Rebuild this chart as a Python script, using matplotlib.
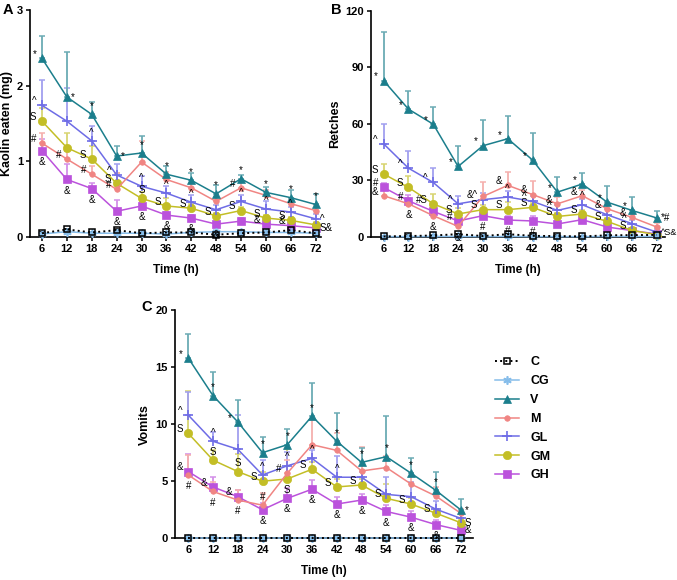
import numpy as np
import matplotlib
matplotlib.use("Agg")
import matplotlib.pyplot as plt
from matplotlib.colors import to_rgb

plt.rcParams['font.family'] = ['Liberation Sans', 'DejaVu Sans']

# time points (h)
hours = [6, 12, 18, 24, 30, 36, 42, 48, 54, 60, 66, 72]
groups = ['C', 'CG', 'V', 'M', 'GL', 'GM', 'GH']

# ---- A: kaolin eaten (mg), mean and upper SD ----
kaolin_mean = {
    'C':  [0.05, 0.10, 0.06, 0.09, 0.05, 0.06, 0.06, 0.03, 0.05, 0.06, 0.09, 0.05],
    'CG': [0.04, 0.07, 0.05, 0.05, 0.05, 0.04, 0.06, 0.07, 0.07, 0.06, 0.06, 0.05],
    'V':  [2.36, 1.85, 1.62, 1.07, 1.11, 0.83, 0.75, 0.57, 0.77, 0.59, 0.52, 0.43],
    'M':  [1.24, 1.03, 0.83, 0.63, 0.99, 0.76, 0.65, 0.47, 0.65, 0.55, 0.44, 0.35],
    'GL': [1.74, 1.53, 1.27, 0.82, 0.67, 0.58, 0.46, 0.36, 0.47, 0.37, 0.33, 0.24],
    'GM': [1.53, 1.18, 1.03, 0.71, 0.51, 0.41, 0.38, 0.28, 0.35, 0.25, 0.22, 0.16],
    'GH': [1.14, 0.76, 0.64, 0.34, 0.41, 0.29, 0.25, 0.17, 0.21, 0.17, 0.15, 0.12],
}
kaolin_sd = {
    'C':  [0.01] * 12,
    'CG': [0.02] * 12,
    'V':  [0.30, 0.60, 0.16, 0.13, 0.22, 0.11, 0.09, 0.12, 0.05, 0.07, 0.10, 0.14],
    'M':  [0.14, 0.10, 0.11, 0.21, 0.28, 0.10, 0.07, 0.06, 0.10, 0.07, 0.06, 0.07],
    'GL': [0.34, 0.44, 0.20, 0.15, 0.13, 0.09, 0.09, 0.06, 0.08, 0.11, 0.07, 0.06],
    'GM': [0.17, 0.19, 0.17, 0.14, 0.08, 0.10, 0.06, 0.04, 0.05, 0.04, 0.04, 0.04],
    'GH': [0.16, 0.21, 0.08, 0.15, 0.05, 0.04, 0.04, 0.03, 0.04, 0.03, 0.03, 0.02],
}

# ---- B: retches ----
retch_mean = {
    'C':  [0.3, 0.5, 0.8, 1.5, 0.5, 1.5, 0.6, 0.5, 0.3, 0.9, 1.0, 1.1],
    'CG': [0.2, 0.2, 0.3, 0.3, 0.2, 0.3, 0.2, 0.2, 0.2, 0.3, 0.3, 0.3],
    'V':  [82.9, 67.8, 59.8, 37.4, 48.4, 52.1, 40.8, 23.8, 28.1, 18.5, 14.1, 10.1],
    'M':  [21.9, 17.6, 11.3, 5.6, 21.5, 27.4, 22.5, 17.6, 21.9, 15.0, 10.4, 5.3],
    'GL': [49.4, 36.5, 28.9, 17.6, 19.8, 21.2, 18.9, 14.1, 17.1, 11.8, 7.1, 2.6],
    'GM': [33.4, 26.3, 17.6, 12.2, 14.5, 14.5, 15.7, 10.9, 12.2, 8.3, 3.5, 1.2],
    'GH': [26.3, 19.2, 13.6, 8.5, 11.3, 9.0, 8.5, 6.9, 9.2, 5.3, 3.4, 1.6],
}
retch_sd = {
    'C':  [0.3] * 12,
    'CG': [0.3] * 12,
    'V':  [25.6, 9.7, 9.0, 10.6, 13.4, 12.3, 14.1, 7.8, 6.1, 8.3, 6.9, 3.8],
    'M':  [3.0, 3.0, 3.0, 3.0, 7.5, 7.2, 7.0, 3.5, 3.0, 3.0, 2.0, 2.0],
    'GL': [10.6, 9.2, 7.5, 4.3, 3.5, 3.0, 3.0, 3.0, 3.0, 3.0, 2.0, 1.5],
    'GM': [5.2, 6.3, 5.2, 3.0, 2.5, 3.9, 2.5, 2.0, 2.0, 2.0, 1.0, 0.8],
    'GH': [2.5, 3.0, 2.5, 2.0, 2.0, 2.0, 2.8, 1.5, 1.5, 1.5, 1.0, 0.8],
}

# ---- C: vomits ----
vomit_mean = {
    'C':  [0] * 12,
    'CG': [0] * 12,
    'V':  [15.8, 12.5, 10.2, 7.5, 8.2, 10.7, 8.5, 6.65, 7.15, 5.7, 4.2, 2.5],
    'M':  [5.55, 4.1, 3.35, 2.9, 5.7, 8.2, 7.7, 5.9, 6.2, 4.75, 3.7, 2.2],
    'GL': [10.8, 8.5, 7.8, 5.55, 6.35, 7.0, 5.35, 5.35, 3.85, 3.65, 2.55, 1.75],
    'GM': [9.2, 6.85, 5.85, 5.0, 5.2, 6.05, 4.5, 4.67, 3.5, 3.0, 2.2, 1.37],
    'GH': [5.85, 4.5, 3.65, 2.5, 3.5, 4.3, 3.0, 3.35, 2.35, 1.85, 1.2, 0.7],
}
vomit_sd = {
    'C':  [0] * 12,
    'CG': [0] * 12,
    'V':  [2.1, 2.1, 1.9, 1.4, 1.35, 2.9, 2.45, 1.25, 3.55, 1.35, 1.6, 0.9],
    'M':  [1.75, 0.8, 0.9, 1.1, 1.2, 2.2, 1.5, 2.1, 1.0, 1.0, 0.8, 0.4],
    'GL': [2.05, 0.8, 3.0, 1.35, 1.25, 0.7, 1.9, 0.5, 1.5, 1.3, 0.7, 0.4],
    'GM': [3.7, 0.9, 1.5, 0.8, 2.6, 0.6, 0.7, 0.5, 1.3, 0.5, 0.4, 0.3],
    'GH': [1.5, 0.9, 0.6, 0.6, 0.9, 0.8, 0.6, 0.5, 0.6, 0.5, 0.4, 0.3],
}

# significance marks: last char = where (l/r/a/b)
kaolin_marks = {
    'V':  ['*l', '*r', '*a', '*r', '*a', '*a', '*a', '*a', '*a', '*a', '*a', '*a'],
    'GL': ['^l', '', '^a', '^l', '^a', '^a', '^a', '', '^a', '^a', '^a', '^r'],
    'M':  ['#l', '#l', '#l', '#l', '', '', '', '', '#l', '', '', ''],
    'GM': ['Sl', '', 'Sl', 'Sl', 'Sa', 'Sl', 'Sl', 'Sl', 'Sl', 'Sl', 'Sl', ''],
    'GH': ['&b', '&b', '&b', '&b', '&b', '&b', '&b', '&b', '', '&l', '&l', 'S&r'],
}
retch_marks = {
    'V':  ['*l', '*l', '*l', '*l', '*l', '*l', '*l', '*l', '*l', '*l', '*l', '*#r'],
    'GL': ['^l', '^l', '^l', '^l', '&^l', '^a', '^l', '^l', '^a', '', '^l', '^S&r'],
    'GM': ['Sl', 'Sl', '#Sl', 'Sl', 'Sl', 'Sl', 'Sl', 'Sl', 'Sl', 'Sl', 'Sl', ''],
    'GH': ['#l', '#l', '', '#l', '#b', '#b', '#b', '', '', '', '', ''],
    'M':  ['&l', '&b', '&b', '&b', '', '&l', '&l', '&l', '&l', '&l', '&l', ''],
}
vomit_marks = {
    'V':  ['*l', '*a', '*l', '*a', '*a', '*a', '*a', '*a', '*a', '*a', '*a', '*r'],
    'GL': ['^l', '^a', '', '^a', '^a', '^a', '^a', '', '', '', '', ''],
    'GM': ['Sl', 'Sa', 'Sa', 'Sl', 'Sb', 'Sl', 'Sl', 'Sl', 'Sl', 'Sl', 'Sl', 'Sr'],
    'M':  ['#b', '#b', '#b', '#a', '#l', '', '', '', '', '', '', ''],
    'GH': ['&l', '&l', '&l', '&b', '&b', '&b', '&b', '&b', '&b', '&b', '&b', '&r'],
}

colors = {'C': 'black', 'CG': '#86BDEA', 'V': '#1B7E8C', 'M': '#F08583',
          'GL': '#6E6CE6', 'GM': '#C3BE26', 'GH': '#BB52DC'}
markers = {'C': 's', 'CG': (6, 2, 0), 'V': '^', 'M': 'o', 'GL': '+', 'GM': 'o', 'GH': 's'}
msizes = {'C': 5, 'CG': 6, 'V': 5.5, 'M': 4, 'GL': 7, 'GM': 6, 'GH': 5.5}
draw_order = ['GH', 'GM', 'GL', 'M', 'V', 'CG', 'C']

offsets = {'l': (-4, 3), 'r': (3, 0), 'a': (0, 6), 'b': (0, -8)}


def lighten(c, f=0.35):
    r, g, b = to_rgb(c)
    return (r + (1 - r) * f, g + (1 - g) * f, b + (1 - b) * f)


def draw_panel(ax, mean, sd, marks, ylim, yticks, ylabel, xlim):
    handles = {}
    for g in draw_order:
        y = np.array(mean[g], dtype=float)
        e = np.array(sd[g], dtype=float)
        col = colors[g]
        ax.errorbar(hours, y, yerr=[np.zeros_like(e), e], fmt='none',
                    ecolor=lighten(col) if g != 'C' else 'black',
                    elinewidth=1.3, capsize=2.5, capthick=1.1, zorder=2)
        if g == 'C':
            h, = ax.plot(hours, y, linestyle=':', color='black', lw=1.4,
                         marker='s', ms=msizes[g], mfc='none', mec='black',
                         mew=1.1, zorder=4, clip_on=False)
        else:
            h, = ax.plot(hours, y, color=col, lw=1.1, marker=markers[g],
                         ms=msizes[g], mew=1.2 if g in ('GL', 'CG') else 0.5,
                         zorder=3, clip_on=False)
        handles[g] = h
    for g, labs in marks.items():
        for x, y, s in zip(hours, mean[g], labs):
            if not s:
                continue
            txt, pos = s[:-1], s[-1]
            ha = 'left' if pos == 'r' else ('right' if pos == 'l' else 'center')
            dx, dy = offsets[pos]
            ax.annotate(txt, (x, y), xytext=(dx, dy), textcoords='offset points',
                        ha=ha, va='center', fontsize=7 if len(txt) < 3 else 6.5,
                        zorder=5)
    ax.set_xlim(*xlim)
    ax.set_ylim(*ylim)
    ax.set_xticks(hours)
    ax.set_yticks(yticks)
    ax.spines['top'].set_visible(False)
    ax.spines['right'].set_visible(False)
    for sp in ('left', 'bottom'):
        ax.spines[sp].set_linewidth(1.2)
    ax.tick_params(width=1.1, length=3, pad=2, labelsize=8)
    for t in ax.get_xticklabels() + ax.get_yticklabels():
        t.set_fontweight('bold')
    ax.set_xlabel('Time (h)', fontsize=8.5, fontweight='bold', labelpad=7)
    ax.set_ylabel(ylabel, fontsize=9, fontweight='bold', labelpad=3)
    return handles


fig = plt.figure(figsize=(6.77, 5.8), dpi=100)

axA = fig.add_axes([30 / 677, 1 - 237 / 580, 291 / 677, 227 / 580])
draw_panel(axA, kaolin_mean, kaolin_sd, kaolin_marks, (0, 3), [0, 1, 2, 3],
           'Kaolin eaten (mg)', (3.1, 73.3))

axB = fig.add_axes([371 / 677, 1 - 237 / 580, 294 / 677, 226.3 / 580])
draw_panel(axB, retch_mean, retch_sd, retch_marks, (0, 120), [0, 30, 60, 90, 120],
           'Retches', (2.95, 74))

axC = fig.add_axes([175 / 677, 1 - 538.3 / 580, 298 / 677, 228.3 / 580])
hC = draw_panel(axC, vomit_mean, vomit_sd, vomit_marks, (0, 20), [0, 5, 10, 15, 20],
                'Vomits', (2.8, 75))

fig.text(3 / 677, 1 - 10 / 580, 'A', fontsize=10.5, fontweight='bold', va='center')
fig.text(331 / 677, 1 - 10 / 580, 'B', fontsize=10.5, fontweight='bold', va='center')
fig.text(141 / 677, 1 - 307 / 580, 'C', fontsize=10.5, fontweight='bold', va='center')

leg = fig.legend([hC[g] for g in groups], groups, loc='upper left',
                 bbox_to_anchor=(484 / 677, 1 - 345 / 580), frameon=False,
                 handlelength=1.9, labelspacing=0.55, handletextpad=0.9,
                 prop={'weight': 'bold', 'size': 9})

fig.savefig('out.png', dpi=100)
